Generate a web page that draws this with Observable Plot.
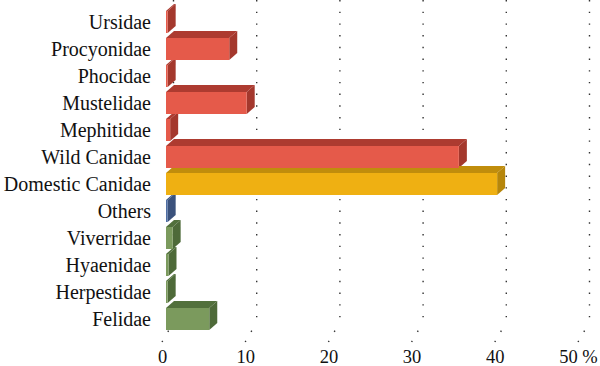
<!DOCTYPE html>
<html>
<head>
<meta charset="utf-8">
<script src="https://cdn.jsdelivr.net/npm/d3@7"></script>
<script src="https://cdn.jsdelivr.net/npm/@observablehq/plot@0.6"></script>
<style>
  html, body { margin: 0; padding: 0; background: #ffffff; }
  #chart svg { display: block; background: #ffffff; }
</style>
</head>
<body>
<div id="chart"></div>
<script>
// ---- data ----
const categories = ["Ursidae", "Procyonidae", "Phocidae", "Mustelidae", "Mephitidae", "Wild Canidae",
                    "Domestic Canidae", "Others", "Viverridae", "Hyaenidae", "Herpestidae", "Felidae"];
const values = [0.2, 7.6, 0.2, 9.7, 0.5, 35.2, 39.8, 0.2, 0.8, 0.3, 0.2, 5.2];
const groups = ["Caniformia", "Caniformia", "Caniformia", "Caniformia", "Caniformia", "Caniformia",
                "Domestic", "Others", "Feliformia", "Feliformia", "Feliformia", "Feliformia"];
const xTicks = [0, 10, 20, 30, 40, 50];
const xTickLabels = ["0", "10", "20", "30", "40", "50 %"];

// ---- styles ----
const groupNames = ["Caniformia", "Domestic", "Others", "Feliformia"];
const frontColors = ["#E55A4A", "#EFB012", "#4F6EA3", "#7B9A5D"];
const darkColors = ["#AD3B30", "#C08D0C", "#3E5783", "#52703C"];
const FONT = '"Liberation Serif", "DejaVu Serif", serif';
const DEPTH_X = 8, DEPTH_Y = 7;      // bar depth (pixels)
const BAR_SHIFT = 4;                 // bars sit slightly behind the front plane
const WALL_X = 11, WALL_Y = 19;      // back wall offset (pixels)
const GRID_DASH = "1.4,10.3";

const data = categories.map((c, i) => ({category: c, value: values[i], group: groups[i]}));
const dark = g => darkColors[groupNames.indexOf(g)];

// floor diagonals of the gridlines
function floorLines(index, scales, vals, dims) {
  const x = scales.x;
  const yb = dims.height - dims.marginBottom;
  const g = d3.create("svg:g");
  for (const t of xTicks) {
    g.append("line")
      .attr("x1", x(t)).attr("y1", yb + WALL_Y)
      .attr("x2", x(t) + WALL_X).attr("y2", yb)
      .attr("stroke", "#333").attr("stroke-width", 1.4)
      .attr("stroke-dasharray", GRID_DASH);
  }
  return g.node();
}

// top and side faces of the 3D bars
function barFaces(index, scales, vals, dims) {
  const x = scales.x, y = scales.y;
  const bw = typeof y.bandwidth === "function" ? y.bandwidth() : 23;
  const g = d3.create("svg:g");
  for (const d of data) {
    const x0 = x(0) + BAR_SHIFT, x1 = x(d.value) + BAR_SHIFT;
    const yt = y(d.category), yb = yt + bw;
    const col = dark(d.group);
    g.append("polygon")
      .attr("points", [[x0, yt], [x1, yt], [x1 + DEPTH_X, yt - DEPTH_Y], [x0 + DEPTH_X, yt - DEPTH_Y]].map(p => p.join(",")).join(" "))
      .attr("fill", col);
    g.append("polygon")
      .attr("points", [[x1, yt], [x1 + DEPTH_X, yt - DEPTH_Y], [x1 + DEPTH_X, yb - DEPTH_Y], [x1, yb]].map(p => p.join(",")).join(" "))
      .attr("fill", d3.color(col).darker(0.15).formatHex());
  }
  return g.node();
}

const chart = Plot.plot({
  width: 600,
  height: 366,
  marginLeft: 162,
  marginRight: 22,
  marginTop: 0,
  marginBottom: 43,
  style: {fontFamily: FONT, fontSize: "20px", background: "#fff"},
  x: {
    domain: [0, 50],
    axis: "bottom",
    ticks: xTicks,
    tickFormat: d => xTickLabels[xTicks.indexOf(d)],
    tickSize: 0,
    tickPadding: 26,
    label: null
  },
  y: {
    domain: categories,
    range: [4.1, 337.7],
    paddingInner: 0.17,
    paddingOuter: 0.085,
    axis: "left",
    tickSize: 0,
    tickPadding: 11.5,
    label: null
  },
  color: {domain: groupNames, range: frontColors},
  marks: [
    Plot.ruleX(xTicks, {x: d => d, dx: WALL_X, stroke: "#333", strokeWidth: 1.4, strokeDasharray: GRID_DASH}),
    floorLines,
    barFaces,
    Plot.barX(data, {y: "category", x1: 0, x2: "value", fill: "group", dx: BAR_SHIFT})
  ]
});

// typography of the axis labels
d3.select(chart).selectAll("text").each(function() {
  const isY = this.closest('[aria-label^="y-axis"]') !== null;
  d3.select(this)
    .style("font-family", FONT)
    .style("font-size", isY ? "20px" : "18.5px")
    .style("fill", "#111");
});
document.getElementById("chart").appendChild(chart);
</script>
</body>
</html>
